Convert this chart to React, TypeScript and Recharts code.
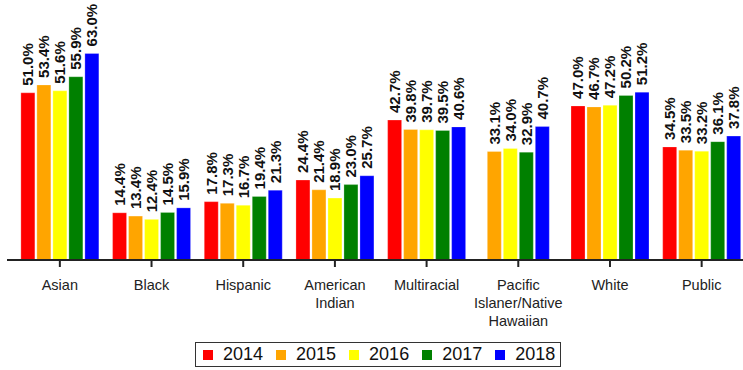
import React from "react";
import { BarChart, Bar, XAxis, YAxis, Rectangle } from "recharts";

const categories = [
  "Asian",
  "Black",
  "Hispanic",
  "American Indian",
  "Multiracial",
  "Pacific Islaner/Native Hawaiian",
  "White",
  "Public",
];

const tickLines: Record<string, string[]> = {
  "American Indian": ["American", "Indian"],
  "Pacific Islaner/Native Hawaiian": ["Pacific", "Islaner/Native", "Hawaiian"],
};

const years = ["2014", "2015", "2016", "2017", "2018"];
const colors = ["#FF0000", "#FFA500", "#FFFF00", "#008000", "#0000FF"];

const v2014 = [51.0, 14.4, 17.8, 24.4, 42.7, null, 47.0, 34.5];
const v2015 = [53.4, 13.4, 17.3, 21.4, 39.8, 33.1, 46.7, 33.5];
const v2016 = [51.6, 12.4, 16.7, 18.9, 39.7, 34.0, 47.2, 33.2];
const v2017 = [55.9, 14.5, 19.4, 23.0, 39.5, 32.9, 50.2, 36.1];
const v2018 = [63.0, 15.9, 21.3, 25.7, 40.6, 40.7, 51.2, 37.8];

const series = [v2014, v2015, v2016, v2017, v2018];

const data = categories.map((name, i) => {
  const row: Record<string, string | number | null> = { name };
  years.forEach((y, s) => {
    row[y] = series[s][i];
  });
  return row;
});

const BAR_GAP = 2;
const FONT = "'Liberation Sans', Arial, sans-serif";

// Groups with missing years are packed together and re-centred on their tick.
function groupShift(catIndex: number, seriesIndex: number, barWidth: number) {
  const present = series.map((s) => s[catIndex] !== null && s[catIndex] !== undefined);
  const n = present.filter(Boolean).length;
  const rank = present.slice(0, seriesIndex).filter(Boolean).length;
  const step = barWidth + BAR_GAP;
  return (rank - seriesIndex) * step + ((series.length - n) / 2) * step;
}

// Each bar draws its own rotated value label above it.
const makeShape = (seriesIndex: number) => (props: any) => {
  const { x, y, width, payload } = props;
  const catIndex = categories.indexOf(payload?.name);
  const value = catIndex >= 0 ? series[seriesIndex][catIndex] : null;
  if (value === null || value === undefined) return <g />;
  const dx = groupShift(catIndex, seriesIndex, width);
  const cx = x + dx + width / 2;
  const ty = y - 7;
  return (
    <g>
      <Rectangle {...props} x={x + dx} />
      <text
        x={cx}
        y={ty}
        transform={`rotate(-90, ${cx}, ${ty})`}
        textAnchor="start"
        dominantBaseline="central"
        fontSize={15}
        fontWeight="bold"
        fill="#111"
        fontFamily={FONT}
        stroke="none"
      >
        {value.toFixed(1)}%
      </text>
    </g>
  );
};

const CategoryTick = (props: any) => {
  const { x, y, payload } = props;
  const lines = tickLines[payload.value] || [payload.value];
  return (
    <g transform={`translate(${x},${y})`}>
      {lines.map((ln, i) => (
        <text
          key={i}
          x={0}
          y={21 + i * 18}
          textAnchor="middle"
          fill="#222"
          fontSize={14.5}
          fontFamily={FONT}
        >
          {ln}
        </text>
      ))}
    </g>
  );
};

const LegendBox = () => (
  <div
    style={{
      position: "absolute",
      left: 195,
      top: 342,
      width: 366,
      height: 25,
      boxSizing: "border-box",
      border: "1px solid #333",
      display: "flex",
      alignItems: "center",
      fontFamily: FONT,
      fontSize: 18,
      color: "#111",
    }}
  >
    {years.map((y, i) => (
      <div key={y} style={{ display: "flex", alignItems: "center", marginLeft: i === 0 ? 7 : 13 }}>
        <span
          style={{
            display: "inline-block",
            width: 10,
            height: 10,
            background: colors[i],
            marginRight: 10,
          }}
        />
        <span>{y}</span>
      </div>
    ))}
  </div>
);

export default function App() {
  return (
    <div
      style={{
        position: "absolute",
        left: 0,
        top: 0,
        width: 743,
        height: 370,
        overflow: "hidden",
        background: "#fff",
      }}
    >
      <BarChart
        width={760}
        height={340}
        data={data}
        margin={{ top: 0, right: 10, left: 7, bottom: 0 }}
        barCategoryGap="7.5%"
        barGap={BAR_GAP}
      >
        <XAxis
          dataKey="name"
          interval={0}
          tick={<CategoryTick />}
          tickLine={{ stroke: "#222", strokeWidth: 2 }}
          tickSize={7}
          axisLine={{ stroke: "#222", strokeWidth: 2 }}
          padding={{ left: 7, right: 2.5 }}
          height={80}
        />
        <YAxis hide domain={[0, 79.3]} type="number" />
        {years.map((y, i) => (
          <Bar
            key={y}
            dataKey={y}
            fill={colors[i]}
            stroke="rgba(255,255,255,0.5)"
            strokeWidth={0.5}
            shape={makeShape(i)}
            isAnimationActive={false}
          />
        ))}
      </BarChart>
      <LegendBox />
    </div>
  );
}
